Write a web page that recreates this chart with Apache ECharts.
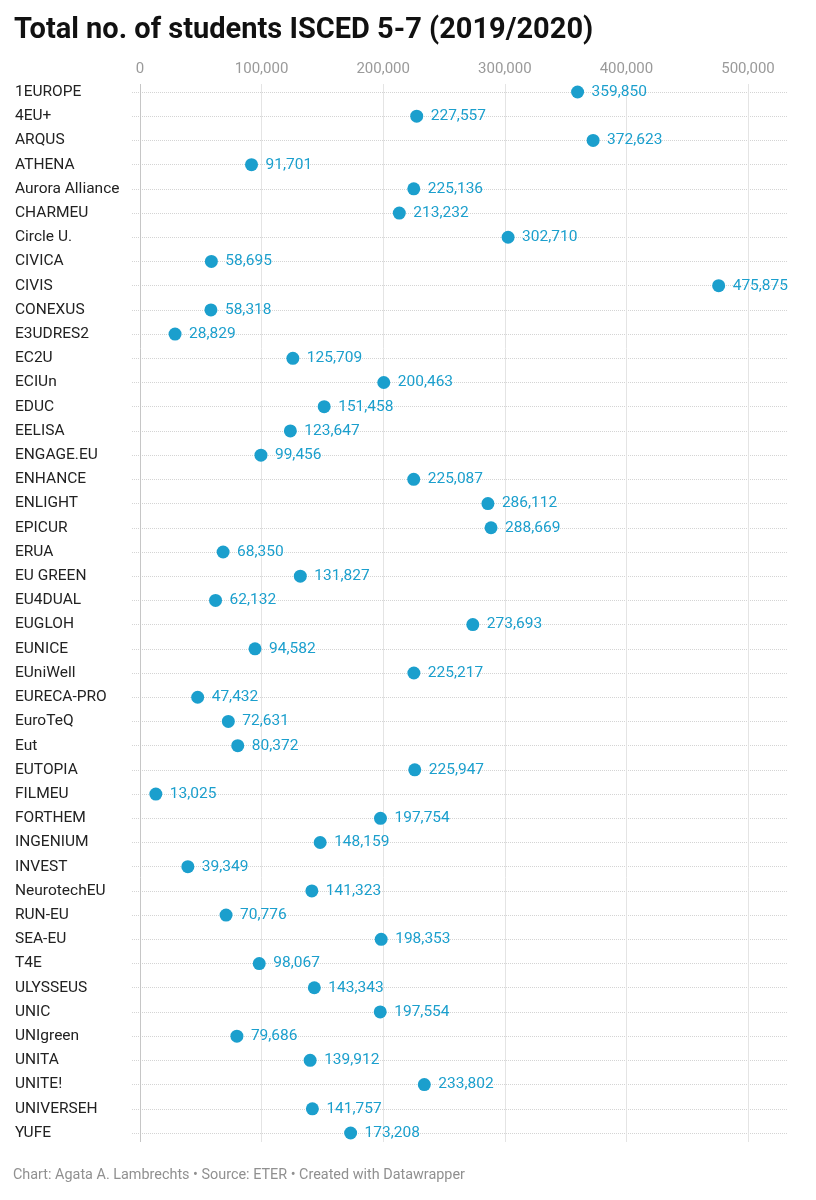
<!DOCTYPE html>
<html>
<head>
<meta charset="utf-8">
<script src="https://cdn.jsdelivr.net/npm/echarts@6/dist/echarts.min.js"></script>
<style>
html,body{margin:0;padding:0;background:#fff;}
#chart{width:816px;height:1200px;}
</style>
</head>
<body>
<div id="chart"></div>
<script>
const categories = ["1EUROPE","4EU+","ARQUS","ATHENA","Aurora Alliance","CHARMEU","Circle U.","CIVICA","CIVIS","CONEXUS","E3UDRES2","EC2U","ECIUn","EDUC","EELISA","ENGAGE.EU","ENHANCE","ENLIGHT","EPICUR","ERUA","EU GREEN","EU4DUAL","EUGLOH","EUNICE","EUniWell","EURECA-PRO","EuroTeQ","Eut","EUTOPIA","FILMEU","FORTHEM","INGENIUM","INVEST","NeurotechEU","RUN-EU","SEA-EU","T4E","ULYSSEUS","UNIC","UNIgreen","UNITA","UNITE!","UNIVERSEH","YUFE"];
const students = [359850,227557,372623,91701,225136,213232,302710,58695,475875,58318,28829,125709,200463,151458,123647,99456,225087,286112,288669,68350,131827,62132,273693,94582,225217,47432,72631,80372,225947,13025,197754,148159,39349,141323,70776,198353,98067,143343,197554,79686,139912,233802,141757,173208];
const tickMin = 0;
const tickMax = 500000;
const tickStep = 100000;

const fmt = v => String(Math.round(v)).replace(/\B(?=(\d{3})+(?!\d))/g, ",");
const pxPerUnit = 608 / 500000;
const blue = "#1b9fcd";

const chart = echarts.init(document.getElementById("chart"), null, {renderer: "canvas"});
chart.setOption({
  animation: false,
  backgroundColor: "#fff",
  textStyle: {fontFamily: "Roboto"},
  title: {
    text: "Total no. of students ISCED 5-7 (2019/2020)",
    left: 9, top: 11,
    textStyle: {fontFamily: "Roboto", fontWeight: "bold", fontSize: 29, color: "#111"}
  },
  graphic: [{
    type: "text", left: 13, top: 1168,
    style: {text: "Chart: Agata A. Lambrechts • Source: ETER • Created with Datawrapper",
      fontFamily: "Roboto", fontSize: 14.4, fill: "#909090"}
  }],
  grid: [
    {left: 140, right: 68, top: 84, bottom: 58},
    {left: 132, right: 28, top: 92, bottom: 67}
  ],
  xAxis: [
    {gridIndex: 0, type: "value", position: "top", min: tickMin, max: tickMax, interval: tickStep,
      axisLine: {show: false}, axisTick: {show: false},
      axisLabel: {formatter: fmt, color: "#9a9a9a", fontSize: 15, fontFamily: "Roboto", margin: 7},
      splitLine: {show: true, lineStyle: {color: ["#c6c6c6","#e4e4e4","#e4e4e4","#e4e4e4","#e4e4e4","#e4e4e4"], width: 1}}},
    {gridIndex: 1, type: "value", min: -8 / pxPerUnit, max: 656 / pxPerUnit - 8 / pxPerUnit,
      show: false, splitLine: {show: false}}
  ],
  yAxis: [
    {gridIndex: 0, type: "value", show: false, splitLine: {show: false}},
    {gridIndex: 1, type: "category", data: categories, inverse: true, boundaryGap: false,
      axisLine: {show: false}, axisTick: {show: false},
      axisLabel: {align: "left", margin: 117, color: "#222", fontSize: 15.5, fontFamily: "Roboto", interval: 0},
      splitLine: {show: true, interval: 0, lineStyle: {type: "dotted", color: "#d4d4d4", width: 1}}}
  ],
  series: [{
    type: "scatter", xAxisIndex: 1, yAxisIndex: 1,
    data: students,
    symbol: "circle", symbolSize: 13,
    itemStyle: {color: blue, opacity: 1},
    label: {show: true, position: "right", distance: 7.5, formatter: p => fmt(p.value),
      color: blue, fontSize: 15.5, fontFamily: "Roboto"},
    z: 5
  }]
});
</script>
</body>
</html>
